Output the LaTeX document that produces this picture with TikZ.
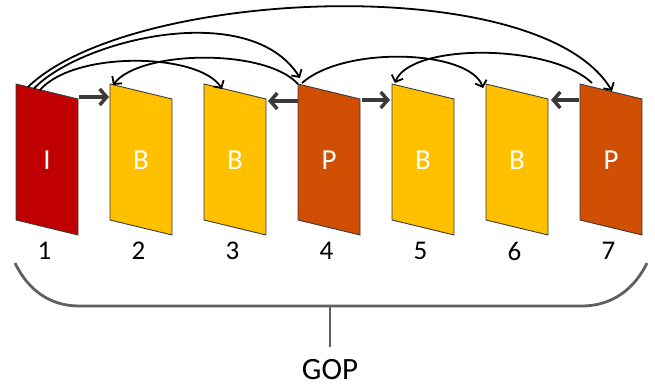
\documentclass[tikz,border=0pt]{standalone}
\usepackage{fontspec}
\setmainfont{Carlito}
\usetikzlibrary{arrows.meta}
\definecolor{iframe}{HTML}{C00000}
\definecolor{bframe}{HTML}{FFC000}
\definecolor{pframe}{HTML}{D04F05}
\definecolor{edgegray}{HTML}{3A3A3A}
\definecolor{bracegray}{HTML}{606060}
\begin{document}
\begin{tikzpicture}[x=1pt,y=-1pt,
  framebox/.style={draw=edgegray, line width=0.9pt, line join=miter},
  framelabel/.style={text=white, font=\fontsize{29}{34}\selectfont, inner sep=0pt},
  numlabel/.style={text=black, font=\fontsize{27}{32}\selectfont, inner sep=0pt},
  gopfont/.style={text=black, font=\fontsize{31}{36}\selectfont, inner sep=0pt},
  refarc/.style={draw=black, line width=1.8pt, -{Straight Barb[length=5.5pt,width=12pt,line width=1.8pt]}},
  nbarrow/.style={draw=edgegray, line width=4pt, -{Straight Barb[length=7pt,width=16pt,line width=3.5pt]}},
  gopbrace/.style={draw=bracegray, line width=2.8pt}
]
\useasboundingbox (0,0) rectangle (655,388);

% the seven frames with their type letters and positions
\foreach \i/\t/\c in {1/I/iframe,2/B/bframe,3/B/bframe,4/P/pframe,5/B/bframe,6/B/bframe,7/P/pframe}{
  \pgfmathsetmacro\xl{16+94*(\i-1)}
  \draw[framebox, fill=\c] (\xl,84) -- ++(62,15) -- ++(0,136) -- ++(-62,-15) -- cycle;
  \node[framelabel] (lab\i) at (\xl+31,160) {\t};
  \node[numlabel] (num\i) at (\xl+28.5,251) {\i};
}

% attachment points on the frame edges
\coordinate (i1a) at (28,87);
\coordinate (i1b) at (34,88.5);
\coordinate (i1c) at (40,90);
\coordinate (i1r) at (79,97);
\coordinate (b2t) at (113,85);
\coordinate (b2l) at (109,97);
\coordinate (b3t) at (222,89);
\coordinate (b3r) at (268,101);
\coordinate (p4a) at (298,84);
\coordinate (p4b) at (302,83);
\coordinate (p4t) at (300,78);
\coordinate (p4l) at (298,101);
\coordinate (p4r) at (362,100);
\coordinate (b5l) at (390,100);
\coordinate (b5t) at (395,83);
\coordinate (b6t) at (483,88);
\coordinate (b6r) at (551,100);
\coordinate (p7a) at (592,83);
\coordinate (p7t) at (612,91);
\coordinate (p7l) at (579,100);

% reference arcs above the frames
\draw[refarc] (i1a) .. controls (130,-12) and (540,-30) .. (p7t);
\draw[refarc] (i1b) .. controls (80,40) and (250,-2) .. (p4t);
\draw[refarc] (i1c) .. controls (75,50) and (200,53) .. (b3t);
\draw[refarc] (p4a) .. controls (265,48) and (140,50) .. (b2t);
\draw[refarc] (p4b) .. controls (345,45) and (470,50) .. (b6t);
\draw[refarc] (p7a) .. controls (550,43) and (410,43) .. (b5t);

% short arrows to the neighbouring frames
\draw[nbarrow] (i1r) -- (b2l);
\draw[nbarrow] (p4l) -- (b3r);
\draw[nbarrow] (p4r) -- (b5l);
\draw[nbarrow] (p7l) -- (b6r);

% brace spanning the group of pictures
\coordinate (brl) at (15,263);
\coordinate (brr) at (647,263);
\coordinate (brm) at (330,306);
\coordinate (stem) at (330,347);
\draw[gopbrace] (brl) .. controls (28,290) and (50,306) .. (79,306) -- (582,306)
  .. controls (611,306) and (634,290) .. (brr);
\draw[gopbrace] (brm) -- (stem);
\node[gopfont] (gop) at (330,370) {GOP};
\end{tikzpicture}
\end{document}
